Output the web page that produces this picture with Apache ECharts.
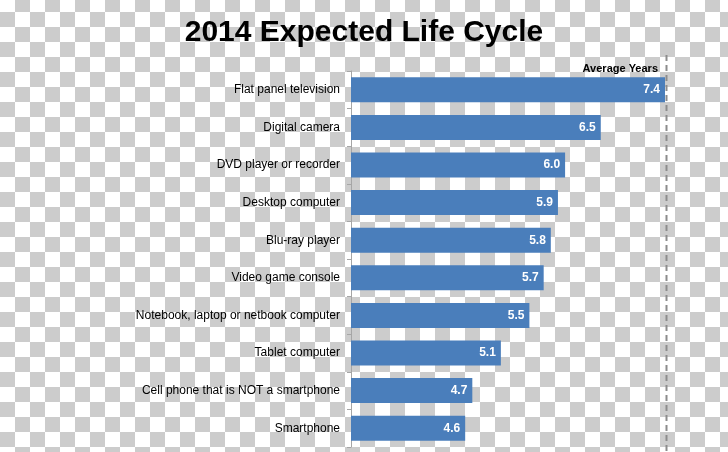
<!DOCTYPE html>
<html>
<head>
<meta charset="utf-8">
<script src="https://cdn.jsdelivr.net/npm/echarts@6/dist/echarts.min.js"></script>
<style>
  html, body { margin: 0; padding: 0; }
  body {
    width: 728px; height: 452px; overflow: hidden;
    background: repeating-conic-gradient(#cccccc 0 25%, #ffffff 0 50%) 0 -3px / 30px 30px;
  }
  #chart { width: 728px; height: 452px; }
</style>
</head>
<body>
<div id="chart"></div>
<script>
const titleText = '2014 Expected Life Cycle';
const referenceLabel = 'Average Years';
const categories = [
  'Flat panel television',
  'Digital camera',
  'DVD player or recorder',
  'Desktop computer',
  'Blu-ray player',
  'Video game console',
  'Notebook, laptop or netbook computer',
  'Tablet computer',
  'Cell phone that is NOT a smartphone',
  'Smartphone'
];
const years = [7.4, 6.5, 6.0, 5.9, 5.8, 5.7, 5.5, 5.1, 4.7, 4.6];
const referenceValue = 7.4;
const axisMin = 3;
const axisMax = 7.4;

const FONT = "'Liberation Sans', Arial, sans-serif";
const chart = echarts.init(document.getElementById('chart'), null, { renderer: 'canvas' });

chart.setOption({
  backgroundColor: 'transparent',
  animation: false,
  title: {
    text: titleText,
    left: 'center',
    top: 13,
    textStyle: { fontFamily: FONT, fontSize: 30, fontWeight: 'bold', color: '#000' }
  },
  grid: { left: 351, right: 63, top: 71, bottom: 5, containLabel: false },
  xAxis: {
    type: 'value',
    min: axisMin,
    max: axisMax,
    show: false
  },
  yAxis: {
    type: 'category',
    data: categories,
    inverse: true,
    axisLine: { show: true, lineStyle: { color: '#a6a6a6', width: 1 } },
    axisTick: { show: true, length: 4, lineStyle: { color: '#a6a6a6' } },
    axisLabel: { margin: 11, fontFamily: FONT, fontSize: 12, color: '#000' },
    splitLine: { show: false }
  },
  series: [{
    type: 'bar',
    data: years,
    barWidth: 25,
    itemStyle: { color: '#4a7ebb' },
    label: {
      show: true,
      position: 'insideRight',
      distance: 5,
      color: '#fff',
      fontFamily: FONT,
      fontWeight: 'bold',
      fontSize: 12,
      formatter: p => p.value.toFixed(1)
    }
  }]
});

const refX = chart.convertToPixel({ gridIndex: 0 }, [referenceValue, 0])[0];
chart.setOption({
  graphic: [
    {
      type: 'line',
      shape: { x1: refX + 1.5, y1: 55, x2: refX + 1.5, y2: 452 },
      style: { stroke: '#8c8c8c', lineWidth: 2, lineDash: [6, 4] },
      z: 10
    },
    {
      type: 'text',
      x: refX - 7,
      y: 69,
      style: {
        text: referenceLabel,
        fill: '#000',
        font: "bold 11px 'Liberation Sans', Arial, sans-serif",
        textAlign: 'right',
        textVerticalAlign: 'middle'
      },
      z: 10
    }
  ]
});
</script>
</body>
</html>
